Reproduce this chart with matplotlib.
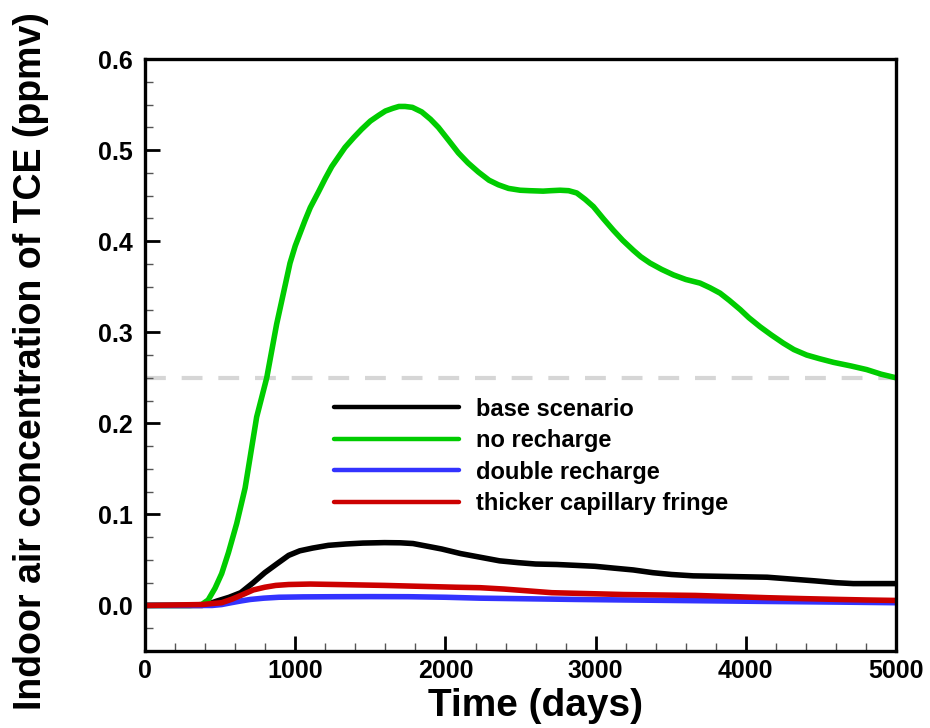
import matplotlib
matplotlib.use("Agg")
import matplotlib.pyplot as plt
from matplotlib.ticker import MultipleLocator, FormatStrFormatter

# values (time in days, concentration in ppmv)
base_t = [0, 380, 430, 478, 560, 637, 720, 797, 880, 956, 1030, 1115, 1220, 1338,
          1450, 1593, 1700, 1784, 1880, 1975, 2100, 2230, 2360, 2485, 2600, 2740,
          2870, 2995, 3120, 3250, 3380, 3505, 3650, 3823, 3980, 4142, 4300, 4460,
          4600, 4715, 4850, 5000]
base_c = [0.0, 0.0, 0.002, 0.0048, 0.009, 0.014, 0.025, 0.036, 0.046, 0.055,
          0.060, 0.063, 0.066, 0.0675, 0.0685, 0.069, 0.0688, 0.068, 0.065,
          0.062, 0.057, 0.053, 0.049, 0.047, 0.0455, 0.045, 0.044, 0.043, 0.041,
          0.039, 0.036, 0.034, 0.0325, 0.032, 0.0315, 0.031, 0.029, 0.027, 0.025,
          0.024, 0.024, 0.024]

norech_t = [0, 300, 377, 420, 466, 510, 555, 610, 666, 743, 810, 876, 965, 1000,
            1065, 1100, 1154, 1200, 1243, 1331, 1390, 1442, 1500, 1553, 1600,
            1650, 1690, 1731, 1780, 1842, 1900, 1953, 2020, 2086, 2150, 2219,
            2290, 2352, 2420, 2497, 2560, 2650, 2700, 2763, 2820, 2874, 2930,
            2985, 3050, 3118, 3180, 3251, 3300, 3362, 3440, 3518, 3600, 3695,
            3760, 3828, 3890, 3962, 4020, 4095, 4170, 4250, 4320, 4405, 4490,
            4583, 4700, 4805, 4900, 5000]
norech_c = [0.0, 0.0, 0.001, 0.006, 0.019, 0.035, 0.058, 0.090, 0.129, 0.207,
            0.250, 0.309, 0.376, 0.395, 0.423, 0.437, 0.454, 0.469, 0.482,
            0.503, 0.514, 0.523, 0.532, 0.538, 0.543, 0.546, 0.548, 0.548,
            0.547, 0.542, 0.534, 0.525, 0.511, 0.497, 0.486, 0.476, 0.467,
            0.462, 0.458, 0.456, 0.4555, 0.455, 0.4555, 0.456, 0.4555, 0.453,
            0.446, 0.438, 0.425, 0.412, 0.401, 0.390, 0.383, 0.376, 0.369,
            0.363, 0.358, 0.354, 0.349, 0.343, 0.335, 0.325, 0.316, 0.306,
            0.297, 0.288, 0.281, 0.275, 0.271, 0.267, 0.263, 0.259, 0.254,
            0.250]

double_t = [0, 446, 510, 573, 640, 701, 790, 892, 1050, 1274, 1500, 1752, 2000,
            2230, 2550, 2867, 3200, 3505, 3800, 4142, 4600, 5000]
double_c = [0.0, 0.0, 0.001, 0.003, 0.005, 0.0066, 0.008, 0.009, 0.0094, 0.0096,
            0.0097, 0.0096, 0.009, 0.008, 0.0073, 0.0066, 0.006, 0.0055, 0.005,
            0.0044, 0.0037, 0.003]

thick_t = [0, 382, 440, 510, 580, 637, 720, 797, 870, 956, 1100, 1274, 1430, 1593,
           1830, 2071, 2230, 2390, 2550, 2708, 2950, 3186, 3420, 3664, 3900, 4142,
           4380, 4620, 4800, 5000]
thick_c = [0.0, 0.001, 0.002, 0.003, 0.007, 0.011, 0.017, 0.020, 0.022, 0.023,
           0.0235, 0.023, 0.0225, 0.022, 0.021, 0.020, 0.0195, 0.018, 0.016,
           0.014, 0.013, 0.012, 0.0115, 0.011, 0.0098, 0.0085, 0.0075, 0.0066,
           0.006, 0.0055]

threshold = 0.25

series = [
    ("base scenario", base_t, base_c, "#000000"),
    ("no recharge", norech_t, norech_c, "#00cc00"),
    ("double recharge", double_t, double_c, "#3333ff"),
    ("thicker capillary fringe", thick_t, thick_c, "#cc0000"),
]


def main():
    plt.rcParams["font.family"] = ["Liberation Sans", "DejaVu Sans"]
    plt.rcParams["font.weight"] = "bold"

    fig = plt.figure(figsize=(9.3, 7.28), dpi=100)
    ax = fig.add_axes([0.156, 0.1058, 0.8075, 0.813])

    ax.axhline(threshold, color="#d6d6d6", linewidth=3, dashes=(5, 3.8), zorder=1)

    for label, t, c, color in series:
        ax.plot(t, c, color=color, linewidth=4, label=label,
                solid_capstyle="round", solid_joinstyle="round", zorder=2)

    ax.set_xlim(0, 5000)
    ax.set_ylim(-0.05, 0.6)
    ax.xaxis.set_major_locator(MultipleLocator(1000))
    ax.xaxis.set_minor_locator(MultipleLocator(200))
    ax.yaxis.set_major_locator(MultipleLocator(0.1))
    ax.yaxis.set_minor_locator(MultipleLocator(0.025))
    ax.yaxis.set_major_formatter(FormatStrFormatter("%.1f"))

    ax.tick_params(which="both", direction="in", top=False, right=False)
    ax.tick_params(which="major", length=11, width=2, labelsize=18)
    ax.tick_params(which="minor", length=6, width=1, color="#555555")
    ax.tick_params(axis="y", which="major", pad=9)
    ax.tick_params(axis="x", which="major", pad=6)
    for lab in ax.get_xticklabels() + ax.get_yticklabels():
        lab.set_fontweight("bold")
    for sp in ax.spines.values():
        sp.set_linewidth(2.4)

    ax.set_xlabel("Time (days)", fontsize=28, fontweight="bold")
    ax.set_ylabel("Indoor air concentration of TCE (ppmv)", fontsize=27,
                  fontweight="bold")
    ax.xaxis.set_label_coords(0.52, -0.062)
    ax.yaxis.set_label_coords(-0.128, 0.49)

    leg = ax.legend(loc="upper left", bbox_to_anchor=(0.252, 0.428), frameon=False,
                    borderpad=0, borderaxespad=0, handlelength=5.3,
                    handletextpad=0.7, labelspacing=0.36,
                    prop={"size": 17, "weight": "bold"})
    for h in leg.get_lines():
        h.set_linewidth(3.2)

    fig.savefig("out.png", dpi=100)
    plt.close(fig)


if __name__ == "__main__":
    main()
